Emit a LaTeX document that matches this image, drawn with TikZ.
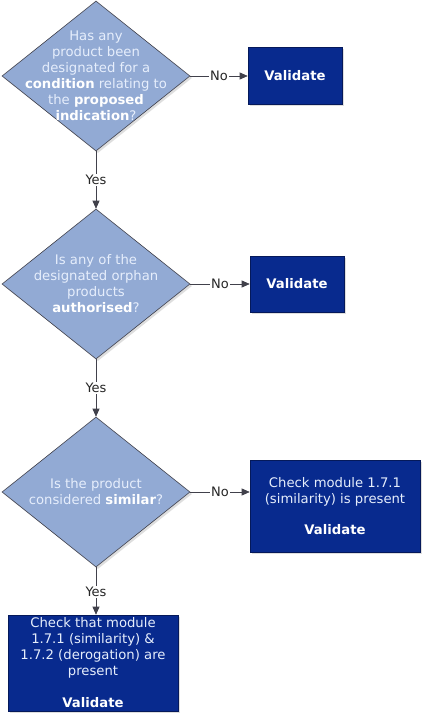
\documentclass[tikz,border=0pt]{standalone}
\usepackage{fontspec}
\setmainfont{DejaVu Sans}
\usetikzlibrary{shapes.geometric,shadows,arrows.meta}
\definecolor{dfill}{RGB}{146,170,212}
\definecolor{dline}{RGB}{65,65,75}
\definecolor{bfill}{RGB}{8,42,142}
\definecolor{bline}{RGB}{5,25,90}
\definecolor{txtl}{RGB}{230,238,252}
\begin{document}
\begin{tikzpicture}[x=1pt,y=-1pt,
  decision/.style={diamond,draw=dline,fill=dfill,line width=0.6pt,inner sep=0pt,aspect=1.2533,
    minimum width=188pt,minimum height=150pt,
    drop shadow={shadow xshift=2pt,shadow yshift=-2pt,fill=black!25,opacity=0.5}},
  dtext/.style={align=center,text=txtl,font=\fontsize{13.2}{16}\selectfont,inner sep=0pt},
  action/.style={rectangle,draw=bline,fill=bfill,line width=0.6pt,inner sep=0pt,
    align=center,text=txtl,font=\fontsize{13.2}{16}\selectfont,
    drop shadow={shadow xshift=2pt,shadow yshift=-2pt,fill=black!25,opacity=0.5}},
  conn/.style={draw=dline,line width=0.7pt,-{Triangle[length=8pt,width=7pt]}},
  lbl/.style={fill=white,inner sep=1.5pt,text=black!85,font=\fontsize{13}{16}\selectfont}
]
\useasboundingbox (0,0) rectangle (423,714);
\fill[white] (0,0) rectangle (423,714);

% decisions
\node[decision] (d1) at (96,76) {};
\node[dtext] (t1) at (96,76) {Has any\\product been\\designated for a\\\textbf{\color{white}condition} relating to\\the \textbf{\color{white}proposed}\\\textbf{\color{white}indication}?};
\node[decision] (d2) at (96,284) {};
\node[dtext] (t2) at (96,284) {Is any of the\\designated orphan\\products\\\textbf{\color{white}authorised}?};
\node[decision] (d3) at (96,492) {};
\node[dtext] (t3) at (96,492) {Is the product\\considered \textbf{\color{white}similar}?};

% actions
\node[action,minimum width=94pt,minimum height=57pt] (a1) at (295,76) {\textbf{\color{white}Validate}};
\node[action,minimum width=94pt,minimum height=56pt] (a2) at (297,284) {\textbf{\color{white}Validate}};
\node[action,minimum width=170pt,minimum height=92pt] (a3) at (335,506) {Check module 1.7.1\\(similarity) is present\\[15pt]\textbf{\color{white}Validate}};
\node[action,minimum width=170pt,minimum height=96pt] (a4) at (93,663) {Check that module\\1.7.1 (similarity) \&\\1.7.2 (derogation) are\\present\\[16pt]\textbf{\color{white}Validate}};

% connectors
\draw[conn] (d1.east) -- node[lbl] {No} (a1.west);
\draw[conn] (d2.east) -- node[lbl] {No} (a2.west);
\draw[conn] (d3.east) -- node[lbl] {No} (a3.west |- d3.east);
\draw[conn] (d1.south) -- node[lbl] {Yes} (d2.north);
\draw[conn] (d2.south) -- node[lbl] {Yes} (d3.north);
\draw[conn] (d3.south) -- node[lbl,pos=0.52] {Yes} (d3.south |- a4.north);
\end{tikzpicture}
\end{document}
